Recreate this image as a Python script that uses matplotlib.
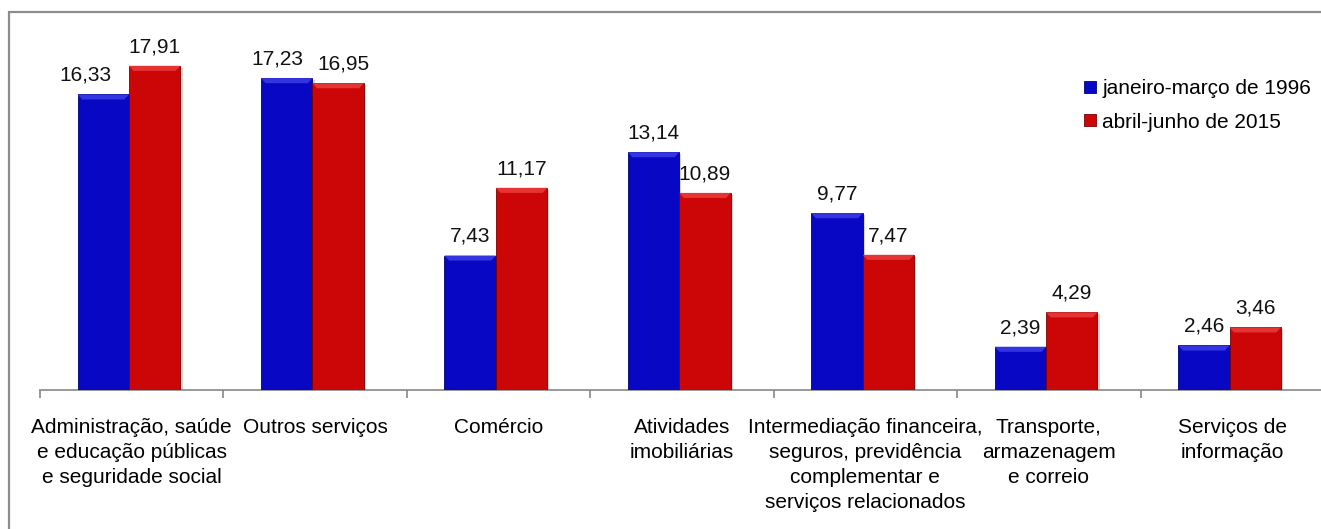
import numpy as np
import matplotlib
matplotlib.use("Agg")
import matplotlib.pyplot as plt
from matplotlib.patches import Rectangle, Polygon

plt.rcParams['font.family'] = ['Liberation Sans', 'DejaVu Sans']

# data
categories = [
    "Administração, saúde\ne educação públicas\ne seguridade social",
    "Outros serviços",
    "Comércio",
    "Atividades\nimobiliárias",
    "Intermediação financeira,\nseguros, previdência\ncomplementar e\nserviços relacionados",
    "Transporte,\narmazenagem\ne correio",
    "Serviços de\ninformação",
]
jan_mar_1996 = [16.33, 17.23, 7.43, 13.14, 9.77, 2.39, 2.46]
abr_jun_2015 = [17.91, 16.95, 11.17, 10.89, 7.47, 4.29, 3.46]
series_names = ["janeiro-março de 1996", "abril-junho de 2015"]

# horizontal nudges (px) of some value labels, as in the original to avoid overlap
nudge_1996 = [-18, -9, 0, 0, 0, 0, 0]
nudge_2015 = [0, 5, 0, 0, 0, 0, 0]

blue = "#0808C4"
red = "#CC0606"
blue_top = "#3434E0"
red_top = "#E63434"

fig = plt.figure(figsize=(13.21, 5.29), dpi=100)
ax = fig.add_axes([40 / 1321, 139 / 529, 1284 / 1321, 362 / 529])

x = np.arange(len(categories))
w = 0.28
b1 = ax.bar(x - 0.155, jan_mar_1996, w, color=blue, edgecolor="#00007A", linewidth=0.6, zorder=3)
b2 = ax.bar(x + 0.125, abr_jun_2015, w, color=red, edgecolor="#7A0000", linewidth=0.6, zorder=3)

# bevel on top of each bar + soft shadow on the right
for bars, top_col in [(b1, blue_top), (b2, red_top)]:
    for p in bars:
        x0, h, bw = p.get_x(), p.get_height(), p.get_width()
        bh, inset = 0.28, 0.025
        ax.add_patch(Polygon([(x0, h), (x0 + bw, h), (x0 + bw - inset, h - bh), (x0 + inset, h - bh)],
                             closed=True, facecolor=top_col, edgecolor="none", zorder=4))
        ax.add_patch(Rectangle((x0 + bw, 0), 0.012, h - 0.1, facecolor="#b8b8b8",
                               edgecolor="none", alpha=0.6, zorder=2))

# value labels
for bars, vals, nudges in [(b1, jan_mar_1996, nudge_1996), (b2, abr_jun_2015, nudge_2015)]:
    for p, v, dx in zip(bars, vals, nudges):
        ax.annotate(f"{v:.2f}".replace(".", ","), (p.get_x() + p.get_width() / 2, v),
                    xytext=(dx * 0.72, 7), textcoords="offset points",
                    ha="center", va="bottom", fontsize=15, color="#111111")

ax.set_xlim(-0.5, len(categories) - 0.5)
ax.set_ylim(0, 20)

ax.set_xticks(np.arange(len(categories) + 1) - 0.5)
ax.set_xticklabels([])
ax.set_xticks(x, minor=True)
ax.set_xticklabels(categories, minor=True, fontsize=15, linespacing=1.4)
ax.tick_params(axis="x", which="major", length=6, color="#888888", width=1.2)
ax.tick_params(axis="x", which="minor", length=0, pad=20)
ax.set_yticks([])

for s in ["left", "right", "top"]:
    ax.spines[s].set_visible(False)
ax.spines["bottom"].set_color("#888888")
ax.spines["bottom"].set_linewidth(1.2)

ax.legend([b1, b2], series_names, loc="upper left", bbox_to_anchor=(1074 / 1321, 1 - 69 / 529),
          bbox_transform=fig.transFigure, frameon=False, fontsize=15,
          handlelength=0.55, handleheight=0.55, handletextpad=0.3, labelspacing=0.68, borderpad=0)

# outer chart border
fig.add_artist(Rectangle((9 / 1321, -0.02), 1.1, (529 - 12) / 529 + 0.02, transform=fig.transFigure,
                         fill=False, edgecolor="#8c8c8c", linewidth=1.6))

fig.savefig("out.png", dpi=100)
